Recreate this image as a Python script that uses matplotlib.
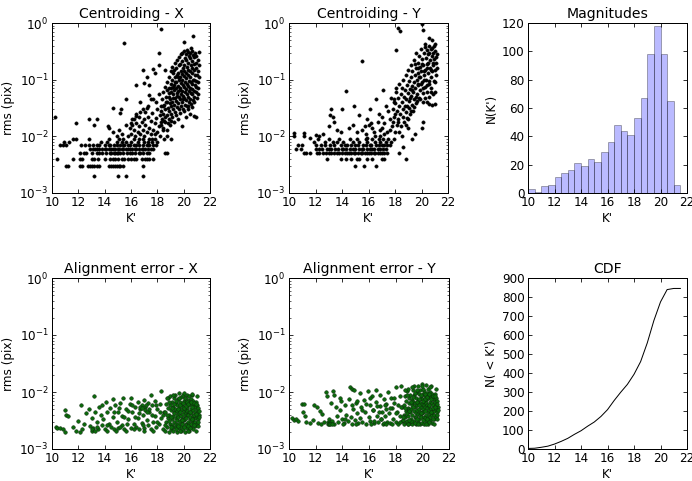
import numpy as np
import matplotlib
matplotlib.use("Agg")
import matplotlib.pyplot as plt

# ---- magnitude histogram / cumulative counts ----
bin_edges = [10.0, 10.5, 11.0, 11.5, 12.0, 12.5, 13.0, 13.5, 14.0, 14.5, 15.0, 15.5,
             16.0, 16.5, 17.0, 17.5, 18.0, 18.5, 19.0, 19.5, 20.0, 20.5, 21.0, 21.5]
hist_counts = [3, 1, 5, 6, 11, 14, 16, 21, 19, 24, 22, 29, 36, 48, 44, 41, 53, 67, 98, 118, 98, 65, 6]
cdf_k = bin_edges
cdf_n = [3, 4, 9, 15, 26, 40, 56, 77, 96, 120, 142, 171, 207, 255, 299, 340, 393, 460,
         558, 676, 774, 839, 845, 845]

# ---- centroiding X: quantized rows (rms, K' values) ----
cx_rows = [
    (0.002, [13.2, 15.0, 15.6, 16.9]),
    (0.003, [11.1, 11.2, 12.1, 12.3, 12.7, 12.9, 13.0, 13.2, 13.4, 13.6, 14.3, 14.5, 14.6, 14.8,
             14.9, 15.1, 15.2, 15.4, 16.9]),
    (0.004, [10.35, 11.6, 12.15, 12.3, 13.0, 13.2, 13.5, 14.0, 14.4, 14.6, 14.8, 15.0, 15.3, 15.5,
             15.8, 16.0, 16.2, 16.4, 16.8, 17.1, 17.2, 17.4, 17.7]),
    (0.005, [12.1, 12.4, 12.6, 13.0, 13.4, 13.6, 13.8, 14.1, 14.4, 14.5, 14.7, 14.8, 14.9, 15.0,
             15.2, 15.4, 15.7, 15.9, 16.1, 16.3, 16.6, 16.7, 16.9, 17.2, 17.4, 18.6, 18.7]),
    (0.006, [12.9, 13.1, 13.3, 13.4, 13.6, 13.8, 14.0, 14.1, 14.3, 14.5, 14.6, 14.8, 15.0, 15.1,
             15.3, 15.4, 15.6, 15.8, 15.9, 16.1, 16.3, 16.4, 16.6, 16.8, 16.9, 17.1, 17.3, 17.5, 17.7]),
    (0.007, [10.6, 10.8, 11.1, 12.2, 12.5, 12.8, 13.1, 13.4, 13.6, 14.0, 14.3, 14.4, 14.7, 14.9,
             15.2, 15.4, 15.5, 15.8, 15.9, 16.2, 16.4, 16.6, 16.9, 17.2, 17.4, 17.7, 17.9]),
    (0.008, [10.9, 11.3, 13.7, 14.2, 14.9, 15.3, 15.6, 16.0, 16.5, 17.0, 17.3, 17.6, 18.0]),
    (0.009, [11.6, 11.8, 12.8, 14.3, 15.1, 15.4, 16.2, 16.6, 16.9, 17.4, 17.8]),
]
cx_pts = [
    (18.28, 0.78), (15.47, 0.44), (18.15, 0.29), (16.94, 0.146), (17.70, 0.155), (17.20, 0.11),
    (16.38, 0.082), (15.62, 0.045), (10.25, 0.022), (14.66, 0.031), (15.22, 0.030), (15.16, 0.026),
    (11.82, 0.017), (12.81, 0.020), (13.39, 0.020), (13.20, 0.016), (14.28, 0.0155), (14.35, 0.014),
    (17.00, 0.088), (17.40, 0.080), (17.55, 0.045), (17.40, 0.053), (17.20, 0.032), (16.70, 0.027),
    (16.40, 0.023), (16.20, 0.020), (16.10, 0.016), (17.80, 0.130), (18.60, 0.150), (18.10, 0.180),
    (15.80, 0.010), (16.00, 0.011), (16.20, 0.013), (16.30, 0.010), (16.50, 0.012), (16.60, 0.015),
    (16.70, 0.011), (16.80, 0.018), (16.90, 0.013), (17.00, 0.010), (17.10, 0.016), (17.20, 0.012),
    (17.30, 0.022), (17.40, 0.014), (17.50, 0.011), (17.50, 0.019), (17.60, 0.026), (17.70, 0.013),
    (17.80, 0.017), (17.90, 0.021), (18.00, 0.012), (18.00, 0.030), (18.10, 0.015), (18.20, 0.024),
    (18.30, 0.018), (18.40, 0.035), (18.40, 0.013), (16.10, 0.020), (16.40, 0.025), (16.60, 0.022),
    (16.90, 0.030), (17.10, 0.027), (17.30, 0.035), (15.60, 0.016), (15.90, 0.014), (16.00, 0.017),
    (16.40, 0.017), (17.00, 0.020), (17.80, 0.011), (18.20, 0.010), (18.50, 0.009), (18.70, 0.010),
    (19.00, 0.009), (17.60, 0.009), (15.30, 0.011), (14.90, 0.010), (14.60, 0.012), (15.10, 0.013),
    (17.70, 0.045), (17.90, 0.040), (18.10, 0.055), (16.70, 0.040),
    (18.32, 0.020), (18.28, 0.028), (18.35, 0.045), (18.30, 0.016), (18.25, 0.034),
    (18.46, 0.014), (18.42, 0.025), (18.48, 0.036), (18.44, 0.060), (18.50, 0.019),
    (18.58, 0.018), (18.62, 0.030), (18.56, 0.022), (18.64, 0.050), (18.60, 0.075), (18.66, 0.040),
    (18.73, 0.013), (18.77, 0.024), (18.71, 0.040), (18.79, 0.032), (18.75, 0.065), (18.70, 0.090),
    (18.78, 0.017), (18.88, 0.020), (18.92, 0.028), (18.86, 0.050), (18.94, 0.038), (18.90, 0.070),
    (18.85, 0.110), (18.93, 0.016), (18.89, 0.058), (19.02, 0.025), (19.06, 0.034), (18.99, 0.045),
    (19.04, 0.060), (19.01, 0.085), (19.07, 0.140), (19.03, 0.019), (19.05, 0.072),
    (19.14, 0.022), (19.18, 0.030), (19.12, 0.040), (19.16, 0.055), (19.19, 0.075), (19.13, 0.100),
    (19.17, 0.130), (19.15, 0.170), (19.20, 0.048), (19.28, 0.018), (19.32, 0.027), (19.26, 0.036),
    (19.34, 0.048), (19.30, 0.065), (19.27, 0.080), (19.33, 0.110), (19.29, 0.150), (19.31, 0.200),
    (19.35, 0.090), (19.44, 0.024), (19.47, 0.033), (19.42, 0.042), (19.49, 0.058), (19.45, 0.070),
    (19.41, 0.090), (19.48, 0.120), (19.43, 0.160), (19.46, 0.220), (19.50, 0.052),
    (19.58, 0.020), (19.62, 0.030), (19.57, 0.038), (19.63, 0.050), (19.60, 0.062), (19.56, 0.078),
    (19.64, 0.100), (19.59, 0.130), (19.61, 0.180), (19.65, 0.250), (19.55, 0.110),
    (19.74, 0.026), (19.78, 0.035), (19.72, 0.045), (19.77, 0.056), (19.73, 0.070), (19.79, 0.088),
    (19.71, 0.110), (19.76, 0.140), (19.75, 0.190), (19.80, 0.280), (19.70, 0.065),
    (19.88, 0.015), (19.92, 0.030), (19.86, 0.040), (19.93, 0.052), (19.89, 0.064), (19.94, 0.080),
    (19.87, 0.100), (19.91, 0.125), (19.95, 0.160), (19.90, 0.210), (19.85, 0.300), (19.96, 0.045),
    (20.04, 0.028), (20.08, 0.036), (20.02, 0.047), (20.07, 0.060), (20.03, 0.073), (20.09, 0.090),
    (20.01, 0.115), (20.06, 0.145), (20.05, 0.180), (20.10, 0.240), (20.00, 0.320), (20.03, 0.470),
    (20.18, 0.022), (20.22, 0.034), (20.16, 0.043), (20.23, 0.055), (20.19, 0.068), (20.24, 0.085),
    (20.17, 0.105), (20.21, 0.130), (20.25, 0.170), (20.20, 0.220), (20.15, 0.280), (20.22, 0.330),
    (20.34, 0.030), (20.38, 0.040), (20.32, 0.050), (20.37, 0.062), (20.33, 0.078), (20.39, 0.095),
    (20.31, 0.120), (20.36, 0.150), (20.35, 0.200), (20.40, 0.260), (20.30, 0.310), (20.33, 0.035),
    (20.48, 0.025), (20.52, 0.037), (20.46, 0.046), (20.53, 0.058), (20.49, 0.072), (20.54, 0.090),
    (20.47, 0.110), (20.51, 0.140), (20.55, 0.180), (20.50, 0.240), (20.45, 0.300), (20.52, 0.360),
    (20.64, 0.033), (20.68, 0.044), (20.62, 0.055), (20.67, 0.068), (20.63, 0.085), (20.69, 0.100),
    (20.61, 0.130), (20.66, 0.160), (20.65, 0.210), (20.70, 0.270), (20.60, 0.320), (20.68, 0.590),
    (20.78, 0.040), (20.82, 0.050), (20.76, 0.063), (20.83, 0.080), (20.79, 0.100), (20.84, 0.120),
    (20.77, 0.150), (20.81, 0.190), (20.80, 0.250), (20.85, 0.290), (20.75, 0.023),
    (20.94, 0.022), (20.98, 0.048), (20.92, 0.060), (20.97, 0.075), (20.93, 0.095), (20.99, 0.120),
    (20.91, 0.160), (20.96, 0.200), (20.95, 0.260),
    (21.08, 0.055), (21.12, 0.070), (21.06, 0.090), (21.13, 0.110), (21.09, 0.140), (21.14, 0.180),
    (21.10, 0.220), (21.19, 0.310),
]

# ---- centroiding Y ----
cy_rows = [
    (0.003, [15.0, 15.65, 16.6]),
    (0.004, [12.9, 13.95, 14.3, 14.7, 15.1, 15.3, 15.9, 16.3, 17.0, 17.2, 18.8]),
    (0.005, [11.1, 11.3, 11.6, 12.1, 12.3, 12.6, 12.8, 13.0, 13.2, 13.4, 13.6, 13.8, 14.0, 14.2,
             14.4, 14.5, 14.7, 14.9, 15.0, 15.2, 15.4, 15.5, 15.7, 15.9, 16.0, 16.2, 16.4, 16.5,
             16.7, 16.9, 17.0, 17.2, 17.4, 18.3]),
    (0.006, [10.5, 10.9, 12.0, 12.3, 12.5, 12.9, 13.0, 13.2, 13.5, 13.7, 14.0, 14.1, 14.3, 14.6,
             14.8, 15.0, 15.3, 15.5, 15.6, 15.9, 16.1, 16.3, 16.4, 16.7, 16.9, 17.1, 17.3]),
    (0.007, [10.7, 11.0, 12.0, 12.4, 12.7, 13.1, 13.4, 13.9, 14.2, 14.4, 14.7, 15.0, 15.2, 15.6,
             15.8, 16.1, 16.2, 16.6, 16.8, 17.0, 17.2, 17.4, 17.6]),
    (0.008, [11.9, 12.7, 13.3, 13.6, 14.1, 14.8, 15.3, 15.9, 16.5, 16.9, 17.3, 17.7]),
    (0.009, [12.2, 13.0, 13.8, 14.6, 15.1, 15.8, 16.3, 16.8, 17.1, 17.5, 17.9]),
]
cy_pts = [
    (10.35, 0.0115), (10.40, 0.010), (11.10, 0.0115), (11.10, 0.010), (11.60, 0.0095),
    (12.00, 0.0105), (12.30, 0.010), (12.60, 0.011), (13.10, 0.024), (13.20, 0.030), (13.30, 0.022),
    (13.00, 0.015), (13.40, 0.018), (13.60, 0.013), (13.90, 0.012), (14.00, 0.030), (14.30, 0.062),
    (14.50, 0.014), (14.80, 0.016), (14.90, 0.035), (15.10, 0.012), (15.30, 0.024), (15.50, 0.21),
    (15.50, 0.013), (15.80, 0.011), (15.90, 0.020), (16.00, 0.016), (16.10, 0.030), (16.30, 0.014),
    (16.40, 0.012), (16.60, 0.045), (16.70, 0.018), (16.80, 0.025), (16.90, 0.013), (17.00, 0.022),
    (17.10, 0.065), (17.20, 0.017), (17.30, 0.035), (17.40, 0.012), (17.50, 0.028), (17.60, 0.020),
    (17.70, 0.048), (17.80, 0.015), (17.90, 0.040), (18.00, 0.025), (18.10, 0.33), (18.20, 0.80),
    (18.40, 0.72), (18.10, 0.070), (18.20, 0.018), (18.30, 0.012), (18.50, 0.010), (18.60, 0.0065),
    (19.50, 0.011), (19.30, 0.009), (19.00, 0.014), (20.00, 0.014), (20.10, 0.018), (20.60, 0.037),
    (20.80, 0.036), (21.00, 0.037), (21.05, 0.060), (20.60, 0.050), (16.90, 0.010), (17.20, 0.011),
    (16.50, 0.010), (15.90, 0.0095), (17.60, 0.013), (17.00, 0.014), (16.20, 0.017), (15.70, 0.015),
    (17.82, 0.030), (17.86, 0.018), (17.90, 0.045), (17.95, 0.022), (18.00, 0.012), (18.03, 0.038),
    (18.08, 0.060), (18.12, 0.016), (18.15, 0.028), (18.20, 0.048), (18.25, 0.020), (18.30, 0.034),
    (18.33, 0.085), (18.38, 0.025), (18.42, 0.055), (18.46, 0.015), (18.50, 0.040), (18.53, 0.070),
    (18.57, 0.030), (18.60, 0.022), (18.63, 0.100), (18.66, 0.050), (18.70, 0.018), (18.73, 0.035),
    (18.76, 0.065), (18.80, 0.027), (18.83, 0.120), (18.86, 0.045), (18.90, 0.080), (18.93, 0.021),
    (18.96, 0.058), (18.99, 0.150), (19.02, 0.032), (19.05, 0.095), (19.08, 0.042), (19.11, 0.068),
    (19.14, 0.025), (19.17, 0.180), (19.20, 0.052), (19.23, 0.110), (19.26, 0.036), (19.29, 0.078),
    (19.32, 0.140), (19.35, 0.060), (19.38, 0.028), (19.41, 0.220), (19.44, 0.090), (19.47, 0.045),
    (19.50, 0.120), (19.53, 0.070), (19.56, 0.300), (19.59, 0.160), (19.62, 0.038), (19.65, 0.100),
    (19.68, 0.055), (19.71, 0.200), (19.74, 0.130), (19.77, 0.080), (19.80, 0.260), (19.83, 0.047),
    (19.86, 0.170), (19.89, 0.110), (19.92, 0.065), (19.95, 0.350), (19.98, 0.140), (20.00, 0.950),
    (20.02, 0.090), (20.05, 0.230), (20.08, 0.058), (20.11, 0.180), (20.14, 0.750), (20.17, 0.120),
    (20.20, 0.300), (20.23, 0.075), (20.26, 0.420), (20.29, 0.150), (20.32, 0.240), (20.35, 0.100),
    (20.38, 0.060), (20.41, 0.330), (20.44, 0.190), (20.47, 0.130), (20.50, 0.280), (20.53, 0.085),
    (20.56, 0.400), (20.59, 0.550), (20.62, 0.160), (20.65, 0.220), (20.68, 0.110), (20.71, 0.350),
    (20.74, 0.070), (20.77, 0.260), (20.80, 0.500), (20.83, 0.140), (20.86, 0.180), (20.89, 0.300),
    (20.92, 0.095), (20.95, 0.400), (20.98, 0.230), (21.01, 0.150), (21.04, 0.320), (21.07, 0.120),
    (21.10, 0.200), (21.13, 0.250), (21.16, 0.160), (21.19, 0.280),
    (19.60, 0.050), (19.70, 0.085), (19.90, 0.045), (20.10, 0.070), (20.30, 0.048), (20.40, 0.080),
    (20.60, 0.095), (20.70, 0.060), (20.90, 0.055), (21.00, 0.090), (19.40, 0.033), (19.20, 0.028),
    (19.00, 0.020), (18.80, 0.016), (19.50, 0.190), (19.80, 0.110), (20.20, 0.140), (20.50, 0.200),
    (20.90, 0.200), (20.40, 0.160), (20.00, 0.190), (20.60, 0.300), (20.80, 0.360), (20.30, 0.380),
    (21.05, 0.420), (20.70, 0.150), (20.20, 0.100), (19.95, 0.085), (19.75, 0.160), (19.25, 0.065),
    (19.10, 0.048), (18.90, 0.035), (19.65, 0.042), (20.15, 0.040), (20.45, 0.040),
]

# ---- alignment error X ----
ax_pts = [
    (10.30, 0.0024), (10.40, 0.0023), (10.60, 0.0023), (10.80, 0.0022), (11.00, 0.0048),
    (11.10, 0.0040), (11.20, 0.0038), (11.00, 0.0020), (11.60, 0.0024), (11.80, 0.0021),
    (12.00, 0.0031), (12.20, 0.0058), (12.10, 0.0020), (12.30, 0.0022), (12.40, 0.0028),
    (12.60, 0.0042), (12.80, 0.0050), (12.90, 0.0025), (13.00, 0.0021), (13.00, 0.0035),
    (13.20, 0.0085), (13.10, 0.0023), (13.30, 0.0045), (13.40, 0.0030), (13.50, 0.0022),
    (13.60, 0.0055), (13.70, 0.0040), (13.80, 0.0026), (13.90, 0.0033), (14.00, 0.0022),
    (14.10, 0.0068), (14.20, 0.0045), (14.30, 0.0028), (14.40, 0.0052), (14.50, 0.0024),
    (14.60, 0.0075), (14.60, 0.0036), (14.70, 0.0022), (14.80, 0.0058), (14.90, 0.0030),
    (15.00, 0.0045), (15.00, 0.0023), (15.20, 0.0065), (15.30, 0.0026), (15.30, 0.0038),
    (15.40, 0.0080), (15.50, 0.0022), (15.60, 0.0050), (15.70, 0.0028), (15.80, 0.0034),
    (15.90, 0.0062), (16.00, 0.0023), (16.00, 0.0078), (16.10, 0.0045), (16.20, 0.0027),
    (16.30, 0.0055), (16.40, 0.0024), (16.50, 0.0068), (16.50, 0.0035), (16.60, 0.0022),
    (16.70, 0.0050), (16.80, 0.0060), (16.80, 0.0029), (16.90, 0.0040), (17.00, 0.0023),
    (17.00, 0.0072), (17.10, 0.0055), (17.20, 0.0032), (17.30, 0.0026), (17.30, 0.0065),
    (17.40, 0.0045), (17.50, 0.0088), (17.50, 0.0022), (17.60, 0.0058), (17.70, 0.0030),
    (17.80, 0.0038), (17.80, 0.0070), (17.90, 0.0024), (18.00, 0.0050), (18.10, 0.0027),
    (18.20, 0.0062), (18.30, 0.0105), (18.30, 0.0035), (18.40, 0.0022), (18.50, 0.0045),
    (13.05, 0.0022), (13.25, 0.0021), (13.45, 0.0024), (14.15, 0.0021), (14.85, 0.0021),
    (15.15, 0.0024), (15.65, 0.0021), (16.25, 0.0022), (16.95, 0.0021), (17.65, 0.0021),
    (16.65, 0.0055), (16.85, 0.0052), (17.15, 0.0058), (17.35, 0.0050), (17.05, 0.0048),
    (18.40, 0.0040), (18.20, 0.0045), (18.00, 0.0030), (17.90, 0.0058), (17.60, 0.0040),
    (17.20, 0.0044), (16.90, 0.0026), (16.60, 0.0042), (16.30, 0.0036), (16.10, 0.0058),
    (15.80, 0.0046), (15.50, 0.0037), (15.10, 0.0052), (14.70, 0.0045), (14.20, 0.0026),
    (13.80, 0.0060),
    (18.60, 0.0021), (18.65, 0.0030), (18.62, 0.0045), (18.68, 0.0062),
    (18.75, 0.0024), (18.80, 0.0035), (18.78, 0.0052), (18.82, 0.0078),
    (18.90, 0.0020), (18.95, 0.0028), (18.92, 0.0040), (18.98, 0.0058), (18.93, 0.0085),
    (19.05, 0.0022), (19.10, 0.0033), (19.02, 0.0048), (19.08, 0.0068), (19.12, 0.0026),
    (19.20, 0.0021), (19.25, 0.0030), (19.18, 0.0038), (19.22, 0.0055), (19.27, 0.0080), (19.23, 0.0044),
    (19.35, 0.0024), (19.40, 0.0035), (19.33, 0.0050), (19.38, 0.0065), (19.42, 0.0028), (19.36, 0.0090),
    (19.50, 0.0020), (19.55, 0.0027), (19.48, 0.0040), (19.53, 0.0058), (19.57, 0.0075), (19.51, 0.0032),
    (19.46, 0.0047), (19.65, 0.0023), (19.70, 0.0031), (19.62, 0.0043), (19.68, 0.0052), (19.72, 0.0068),
    (19.66, 0.0095), (19.60, 0.0036), (19.80, 0.0021), (19.85, 0.0029), (19.78, 0.0038), (19.83, 0.0048),
    (19.87, 0.0060), (19.81, 0.0082), (19.76, 0.0025), (19.84, 0.0034), (19.95, 0.0022), (20.00, 0.0032),
    (19.93, 0.0041), (19.98, 0.0055), (20.02, 0.0070), (19.96, 0.0088), (19.91, 0.0027), (20.01, 0.0046),
    (20.10, 0.0020), (20.15, 0.0028), (20.08, 0.0037), (20.13, 0.0050), (20.17, 0.0063), (20.11, 0.0078),
    (20.06, 0.0033), (20.14, 0.0043), (20.25, 0.0023), (20.30, 0.0030), (20.23, 0.0040), (20.28, 0.0053),
    (20.32, 0.0072), (20.26, 0.0090), (20.21, 0.0026), (20.29, 0.0047), (20.40, 0.0021), (20.45, 0.0034),
    (20.38, 0.0044), (20.43, 0.0058), (20.47, 0.0067), (20.41, 0.0028), (20.36, 0.0039), (20.44, 0.0085),
    (20.55, 0.0024), (20.60, 0.0031), (20.53, 0.0042), (20.58, 0.0050), (20.62, 0.0062), (20.56, 0.0075),
    (20.51, 0.0036), (20.59, 0.0027), (20.70, 0.0022), (20.75, 0.0029), (20.68, 0.0038), (20.73, 0.0048),
    (20.77, 0.0057), (20.71, 0.0070), (20.66, 0.0088), (20.74, 0.0033), (20.85, 0.0025), (20.90, 0.0035),
    (20.83, 0.0045), (20.88, 0.0055), (20.92, 0.0068), (20.86, 0.0030), (20.81, 0.0040),
    (21.00, 0.0028), (21.05, 0.0038), (20.98, 0.0050), (21.03, 0.0060), (21.07, 0.0033), (21.01, 0.0043),
    (21.12, 0.0030), (21.15, 0.0040), (21.10, 0.0052), (21.17, 0.0036),
    (18.55, 0.0026), (18.70, 0.0040), (18.85, 0.0031), (18.87, 0.0066), (19.00, 0.0037), (19.15, 0.0052),
    (19.14, 0.0024), (19.30, 0.0042), (19.28, 0.0062), (19.45, 0.0022), (19.44, 0.0070), (19.58, 0.0050),
    (19.60, 0.0025), (19.63, 0.0080), (19.74, 0.0044), (19.75, 0.0058), (19.90, 0.0032), (19.92, 0.0065),
    (20.04, 0.0024), (20.05, 0.0052), (20.07, 0.0080), (20.19, 0.0035), (20.20, 0.0056), (20.22, 0.0068),
    (20.34, 0.0025), (20.35, 0.0062), (20.50, 0.0045), (20.49, 0.0023), (20.52, 0.0068), (20.64, 0.0034),
    (20.65, 0.0055), (20.79, 0.0026), (20.80, 0.0063), (20.95, 0.0041), (20.96, 0.0062), (21.08, 0.0025),
    (21.13, 0.0046), (20.90, 0.0021), (19.70, 0.0021), (20.30, 0.0021), (19.00, 0.0024), (18.70, 0.0080),
    (19.20, 0.0088), (20.00, 0.0095), (20.60, 0.0092), (21.05, 0.0085),
]

# ---- alignment error Y ----
ay_pts = [
    (10.20, 0.0035), (10.35, 0.0032), (10.50, 0.0033), (10.65, 0.0031), (11.00, 0.0062),
    (11.10, 0.0062), (11.05, 0.0045), (11.20, 0.0038), (11.30, 0.0030), (11.60, 0.0029),
    (11.80, 0.0032), (11.90, 0.0060), (12.10, 0.0055), (12.20, 0.0029), (12.30, 0.0046),
    (12.40, 0.0028), (12.50, 0.0041), (12.60, 0.0030), (12.80, 0.0100), (12.85, 0.0085),
    (12.90, 0.0030), (12.95, 0.0028), (13.00, 0.0033), (13.05, 0.0029), (13.10, 0.0030),
    (13.15, 0.0065), (13.20, 0.0031), (13.30, 0.0105), (13.35, 0.0090), (13.40, 0.0028),
    (13.50, 0.0055), (13.60, 0.0038), (13.70, 0.0030), (13.80, 0.0048), (13.90, 0.0070),
    (14.00, 0.0033), (14.10, 0.0029), (14.20, 0.0058), (14.30, 0.0040), (14.40, 0.0031),
    (14.50, 0.0075), (14.60, 0.0120), (14.65, 0.0036), (14.70, 0.0115), (14.75, 0.0028),
    (14.80, 0.0050), (14.90, 0.0110), (14.95, 0.0032), (15.00, 0.0065), (15.10, 0.0042),
    (15.20, 0.0029), (15.30, 0.0095), (15.35, 0.0035), (15.40, 0.0055), (15.50, 0.0030),
    (15.60, 0.0072), (15.70, 0.0045), (15.80, 0.0028), (15.90, 0.0105), (16.00, 0.0037),
    (16.05, 0.0060), (16.10, 0.0031), (16.20, 0.0085), (16.30, 0.0048), (16.40, 0.0029),
    (16.50, 0.0068), (16.55, 0.0110), (16.60, 0.0038), (16.70, 0.0030), (16.80, 0.0056),
    (16.85, 0.0090), (16.90, 0.0033), (17.00, 0.0045), (17.05, 0.0028), (17.10, 0.0075),
    (17.20, 0.0038), (17.30, 0.0062), (17.35, 0.0030), (17.40, 0.0100), (17.50, 0.0042),
    (17.60, 0.0029), (17.65, 0.0080), (17.70, 0.0052), (17.80, 0.0034), (17.90, 0.0065),
    (18.00, 0.0030), (18.05, 0.0120), (18.10, 0.0045), (18.20, 0.0028), (18.30, 0.0085),
    (18.35, 0.0038), (18.40, 0.0130), (18.45, 0.0055), (18.50, 0.0031),
    (13.00, 0.0028), (13.10, 0.0027), (13.25, 0.0028), (14.05, 0.0028), (15.05, 0.0028),
    (16.15, 0.0028), (17.15, 0.0029), (17.75, 0.0028), (16.75, 0.0044), (17.25, 0.0050),
    (18.40, 0.0055), (18.20, 0.0060), (18.00, 0.0042), (17.90, 0.0080), (17.60, 0.0052),
    (17.20, 0.0058), (16.90, 0.0034), (16.60, 0.0056), (16.30, 0.0048), (16.10, 0.0078),
    (15.80, 0.0062), (15.50, 0.0049), (15.10, 0.0070), (14.70, 0.0060), (14.20, 0.0034),
    (13.80, 0.0080), (18.30, 0.0030), (17.30, 0.0028), (16.40, 0.0031),
    (18.60, 0.0028), (18.65, 0.0040), (18.62, 0.0060), (18.68, 0.0085), (18.58, 0.0032),
    (18.75, 0.0030), (18.80, 0.0047), (18.78, 0.0070), (18.82, 0.0105), (18.72, 0.0036),
    (18.90, 0.0027), (18.95, 0.0038), (18.92, 0.0053), (18.98, 0.0078), (18.93, 0.0115), (18.88, 0.0031),
    (19.05, 0.0029), (19.10, 0.0044), (19.02, 0.0064), (19.08, 0.0090), (19.12, 0.0034), (19.00, 0.0050),
    (19.20, 0.0028), (19.25, 0.0040), (19.18, 0.0051), (19.22, 0.0073), (19.27, 0.0108), (19.23, 0.0059),
    (19.35, 0.0031), (19.40, 0.0047), (19.33, 0.0067), (19.38, 0.0087), (19.42, 0.0037), (19.36, 0.0125),
    (19.50, 0.0027), (19.55, 0.0036), (19.48, 0.0054), (19.53, 0.0078), (19.57, 0.0100), (19.51, 0.0043),
    (19.46, 0.0063), (19.65, 0.0030), (19.70, 0.0041), (19.62, 0.0058), (19.68, 0.0070), (19.72, 0.0091),
    (19.66, 0.0130), (19.60, 0.0048), (19.80, 0.0028), (19.85, 0.0039), (19.78, 0.0051), (19.83, 0.0064),
    (19.87, 0.0080), (19.81, 0.0110), (19.76, 0.0033), (19.84, 0.0045), (19.95, 0.0029), (20.00, 0.0043),
    (19.93, 0.0055), (19.98, 0.0074), (20.02, 0.0094), (19.96, 0.0140), (19.91, 0.0036), (20.01, 0.0062),
    (20.10, 0.0027), (20.15, 0.0037), (20.08, 0.0050), (20.13, 0.0067), (20.17, 0.0084), (20.11, 0.0105),
    (20.06, 0.0044), (20.14, 0.0058), (20.25, 0.0031), (20.30, 0.0040), (20.23, 0.0054), (20.28, 0.0071),
    (20.32, 0.0096), (20.26, 0.0135), (20.21, 0.0035), (20.29, 0.0063), (20.40, 0.0028), (20.45, 0.0045),
    (20.38, 0.0059), (20.43, 0.0078), (20.47, 0.0090), (20.41, 0.0037), (20.36, 0.0052), (20.44, 0.0115),
    (20.55, 0.0032), (20.60, 0.0041), (20.53, 0.0056), (20.58, 0.0067), (20.62, 0.0083), (20.56, 0.0100),
    (20.51, 0.0048), (20.59, 0.0036), (20.70, 0.0029), (20.75, 0.0039), (20.68, 0.0051), (20.73, 0.0064),
    (20.77, 0.0076), (20.71, 0.0094), (20.66, 0.0130), (20.74, 0.0044), (20.85, 0.0033), (20.90, 0.0047),
    (20.83, 0.0060), (20.88, 0.0074), (20.92, 0.0091), (20.86, 0.0040), (20.81, 0.0053),
    (21.00, 0.0037), (21.05, 0.0051), (20.98, 0.0067), (21.03, 0.0080), (21.07, 0.0044), (21.01, 0.0058),
    (21.12, 0.0040), (21.15, 0.0054), (21.10, 0.0070), (21.17, 0.0048),
    (18.55, 0.0036), (18.70, 0.0052), (18.85, 0.0042), (18.87, 0.0090), (19.00, 0.0046), (19.15, 0.0068),
    (19.14, 0.0031), (19.30, 0.0055), (19.28, 0.0082), (19.45, 0.0029), (19.44, 0.0095), (19.58, 0.0066),
    (19.60, 0.0033), (19.63, 0.0110), (19.74, 0.0058), (19.75, 0.0076), (19.90, 0.0042), (19.92, 0.0088),
    (20.04, 0.0032), (20.05, 0.0070), (20.07, 0.0112), (20.19, 0.0046), (20.20, 0.0075), (20.22, 0.0092),
    (20.34, 0.0033), (20.35, 0.0083), (20.50, 0.0060), (20.49, 0.0030), (20.52, 0.0092), (20.64, 0.0045),
    (20.65, 0.0074), (20.79, 0.0034), (20.80, 0.0085), (20.95, 0.0055), (20.96, 0.0084), (21.08, 0.0033),
    (21.13, 0.0062), (20.90, 0.0028), (19.70, 0.0028), (20.30, 0.0028), (19.00, 0.0032), (18.70, 0.0110),
    (19.20, 0.0120), (20.00, 0.0125), (20.60, 0.0122), (21.05, 0.0112), (18.90, 0.0028),
]


def unpack(rows, pts):
    k, r = [], []
    for level, ks in rows:
        k.extend(ks)
        r.extend([level] * len(ks))
    for kk, rr in pts:
        k.append(kk)
        r.append(rr)
    return k, r


plt.rcParams['font.family'] = ['DejaVu Sans']
plt.rcParams['font.size'] = 12
plt.rcParams['mathtext.default'] = 'regular'

W, H = 692, 481
fig = plt.figure(figsize=(W / 72, H / 72), dpi=72)


def box(l, t, r, b):
    return [l / W, 1 - b / H, (r - l) / W, (b - t) / H]


def style(ax):
    ax.tick_params(which='both', direction='in', top=True, right=True, labelsize=12)
    ax.tick_params(which='major', length=4, width=0.8)
    ax.tick_params(which='minor', length=2, width=0.6)
    for s in ax.spines.values():
        s.set_linewidth(1.0)
    ax.set_xlim(10, 22)
    ax.set_xticks([10, 12, 14, 16, 18, 20, 22])
    ax.set_xlabel("K'", fontsize=12, labelpad=2)


def scatter_panel(ax, k, r, title, face, edge, size, lw):
    ax.scatter(k, r, s=size, c=face, edgecolors=edge, linewidths=lw)
    ax.set_yscale('log')
    ax.set_ylim(1e-3, 1)
    ax.set_title(title, fontsize=14, pad=5)
    ax.set_ylabel('rms (pix)', fontsize=12)
    style(ax)


ax1 = fig.add_axes(box(52, 23, 210, 193))
scatter_panel(ax1, *unpack(cx_rows, cx_pts), 'Centroiding - X', 'k', 'k', 12, 0.3)
ax2 = fig.add_axes(box(289, 23, 448, 193))
scatter_panel(ax2, *unpack(cy_rows, cy_pts), 'Centroiding - Y', 'k', 'k', 12, 0.3)

ax3 = fig.add_axes(box(528, 23, 687, 193))
ax3.bar(bin_edges[:-1], hist_counts, width=0.5, align='edge',
        color=(0.0, 0.0, 1.0, 0.27), edgecolor=(0.0, 0.0, 0.0, 0.3), linewidth=1)
ax3.set_ylim(0, 120)
ax3.set_yticks(range(0, 121, 20))
ax3.set_title('Magnitudes', fontsize=14, pad=5)
ax3.set_ylabel("N(K')", fontsize=12)
style(ax3)

ax4 = fig.add_axes(box(52, 278, 210, 449))
scatter_panel(ax4, *unpack([], ax_pts), 'Alignment error - X', '#0a6a0a', '#0c2a0c', 13, 0.5)
ax5 = fig.add_axes(box(289, 278, 449, 449))
scatter_panel(ax5, *unpack([], ay_pts), 'Alignment error - Y', '#0a6a0a', '#0c2a0c', 13, 0.5)

ax6 = fig.add_axes(box(528, 278, 687, 449))
ax6.plot(cdf_k, cdf_n, color='k', linewidth=1.0)
ax6.set_ylim(0, 900)
ax6.set_yticks(range(0, 901, 100))
ax6.set_title('CDF', fontsize=14, pad=5)
ax6.set_ylabel("N( < K')", fontsize=12)
style(ax6)

fig.savefig('out.png', dpi=72)
